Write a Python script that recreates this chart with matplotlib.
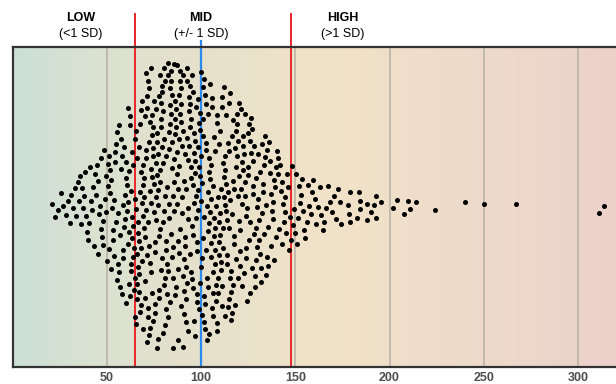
import numpy as np
import matplotlib
matplotlib.use("Agg")
import matplotlib.pyplot as plt
from matplotlib.colors import LinearSegmentedColormap
import matplotlib.transforms as mtransforms

plt.rcParams['font.family'] = ['Liberation Sans', 'DejaVu Sans']

bin_starts = list(range(20, 175, 5))
bin_counts = [3, 4, 6, 9, 10, 13, 17, 20, 27, 33, 37, 37, 37, 36, 35, 35,
              34, 33, 31, 28, 25, 22, 19, 16, 12, 10, 9, 7, 6, 5, 5]
tail_scores = [178.0, 178.4, 178.9, 179.3, 183.0, 183.8, 184.2, 184.2, 188.0,
               188.0, 190.0, 191.8, 192.7, 193.0, 195.7, 201.9, 204.0, 207.7,
               210.0, 211.0, 214.0, 224.0, 240.0, 250.0, 267.0, 311.0, 314.0]

mean_line = 100
sd_lines = [65, 148]
tick_vals = [50, 100, 150, 200, 250, 300]

bands = ["LOW", "MID", "HIGH"]
band_notes = ["(<1 SD)", "(+/- 1 SD)", "(>1 SD)"]
band_x = [36, 100, 175]

scores = []
for lo, n in zip(bin_starts, bin_counts):
    for j in range(n):
        scores.append(lo + (j + 0.5) * 5.0 / n)
scores = np.array(scores + tail_scores)
scores.sort()

# sina layout: half width follows the density of the scores
bw = 6.0
dens = np.exp(-0.5 * ((scores[:, None] - scores[None, :]) / bw) ** 2).sum(axis=1)
half = dens / dens.max() * 0.9
half = np.maximum(half, 0.04)

# start from a quadratic Weyl sequence, then push crowded dots apart in y
i = np.arange(len(scores))
u = (i * i * 0.6180339887 + i * 0.4142135) % 1.0
px = scores * 1.885
hpx = half * 160
py = (2 * u - 1) * hpx
d0 = 9.0
for it in range(150):
    dx = px[:, None] - px[None, :]
    dy = py[:, None] - py[None, :]
    d = np.sqrt(dx ** 2 + dy ** 2) + np.eye(len(px)) * 1e6 + 1e-6
    over = np.clip(d0 - d, 0, None)
    py = py + 0.25 * (over * dy / d).sum(axis=1)
    py = np.clip(py, -hpx, hpx)
yy = py / 160

fig = plt.figure(figsize=(6.16, 3.84), dpi=100)
ax = fig.add_axes([12.5 / 616, 17 / 384, 605 / 616, 320 / 384])
xmax = 605 / 1.885
ax.set_xlim(0, xmax)
ax.set_ylim(-1, 1)

# background gradient
stops = [(0.0, "#cde0d6"), (50 / xmax, "#dce2d0"), (100 / xmax, "#e6e0cb"),
         (165 / xmax, "#f1e3c8"), (235 / xmax, "#eedcca"), (1.0, "#ecd1cb")]
cmap = LinearSegmentedColormap.from_list("bg", stops)
ax.imshow(np.linspace(0, 1, 512)[None, :], extent=[0, xmax, -1, 1],
          aspect="auto", cmap=cmap, zorder=0)

for t in tick_vals:
    ax.axvline(t, color="#bbb3a6", lw=1.2, zorder=1)

trans = mtransforms.blended_transform_factory(ax.transData, ax.transAxes)
for v in sd_lines:
    ax.plot([v, v], [0, 1.103], color="#e8262a", lw=1.4, transform=trans,
            clip_on=False, zorder=2)
ax.plot([mean_line, mean_line], [0, 1.02], color="#2b8af0", lw=1.6,
        transform=trans, clip_on=False, zorder=2)

ax.scatter(scores, yy, s=13, color="black", linewidths=0, zorder=3)

for name, note, x in zip(bands, band_notes, band_x):
    ax.text(x, 1.09, name, transform=trans, ha="center", va="center",
            fontsize=9, fontweight="bold")
    ax.text(x, 1.04, note, transform=trans, ha="center", va="center",
            fontsize=9)

ax.set_xticks(tick_vals)
ax.set_xticklabels([str(t) for t in tick_vals], fontweight="bold",
                   color="#4d4d4d", fontsize=9)
ax.tick_params(axis="x", length=0, pad=3.5)
ax.set_yticks([])
for s in ax.spines.values():
    s.set_color("#333333")
    s.set_linewidth(1.6)

fig.savefig("out.png", dpi=100)
